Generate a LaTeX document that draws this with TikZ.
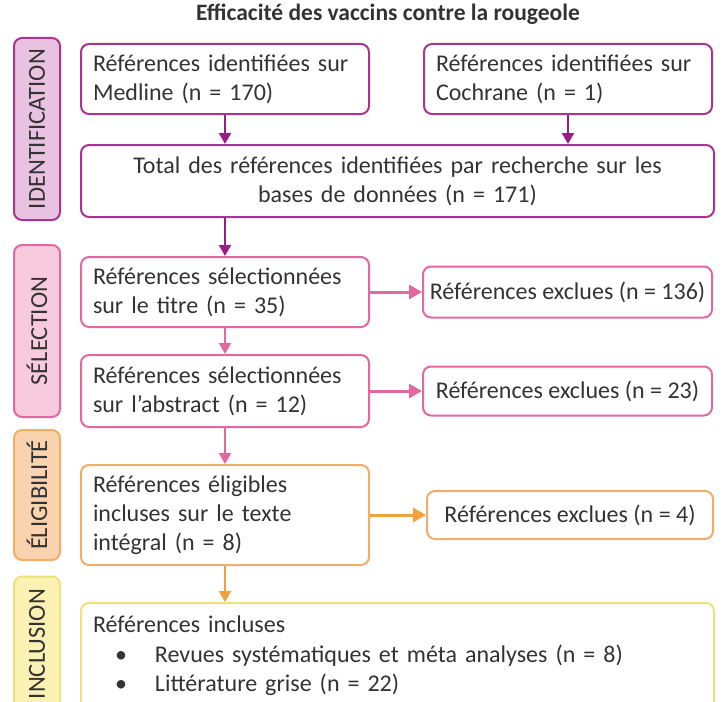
\documentclass[tikz,border=0pt]{standalone}
\usepackage{fontspec}
\setmainfont{Carlito}
\usetikzlibrary{positioning,arrows.meta}

\definecolor{idcol}{HTML}{A8358F}
\definecolor{idfill}{HTML}{E9C2E1}
\definecolor{idarrow}{HTML}{9B1C85}
\definecolor{selcol}{HTML}{E2699F}
\definecolor{selfill}{HTML}{F7CADD}
\definecolor{eligcol}{HTML}{F0AE6A}
\definecolor{eligfill}{HTML}{F8D3AE}
\definecolor{eligarrow}{HTML}{F2A23C}
\definecolor{inclcol}{HTML}{EEE07A}
\definecolor{inclfill}{HTML}{FBF1B3}
\definecolor{txt}{HTML}{333333}

\begin{document}
\begin{tikzpicture}[
    x=1pt, y=1pt,
    font=\fontsize{24}{29}\selectfont\color{txt},
    node distance=30pt,
    box/.style={
        rectangle,
        fill=white,
        line width=2pt,
        rounded corners=8pt,
        inner xsep=12pt,
        inner ysep=4pt,
        align=left
    },
    exclbox/.style={
        box,
        inner xsep=2pt,
        align=center
    },
    phase/.style={
        rectangle,
        rotate=90,
        line width=2pt,
        rounded corners=8pt,
        minimum height=46pt,
        inner sep=0pt,
        font=\fontsize{24.5}{28}\selectfont\color{txt}
    },
    arrow/.style={-{Triangle[length=11pt,width=12pt]}, line width=2.2pt},
    sidearrow/.style={-{Triangle[length=13pt,width=14pt]}, line width=3pt}
]
\useasboundingbox (0,0) rectangle (727,-701);

\node[font=\fontsize{23.5}{28}\selectfont\bfseries\color{txt}] (title) at (388,-14)
{Efficacité des vaccins contre la rougeole};

% identification
\node[box, draw=idcol, text width=264pt, minimum height=70pt, anchor=north west] (med) at (80,-43)
{Références identifiées sur\\Medline (n = 170)};
\node[box, draw=idcol, text width=264pt, minimum height=70pt] (coc) [right=53pt of med]
{Références identifiées sur\\Cochrane (n = 1)};
\node[box, draw=idcol, text width=609pt, minimum height=72pt, align=center]
    (tot) [below=29pt of med.south west, anchor=north west]
{Total des références identifiées par recherche sur les\\bases de données (n = 171)};

% selection
\node[box, draw=selcol, text width=264pt, minimum height=70pt]
    (sel1) [below=38pt of tot.south west, anchor=north west]
{Références sélectionnées\\sur le titre (n = 35)};
\node[exclbox, draw=selcol, minimum width=289pt, minimum height=51pt]
    (exc1) [right=52pt of sel1]
{Références exclues (n = 136)};
\node[box, draw=selcol, text width=264pt, minimum height=72pt] (sel2) [below=26pt of sel1]
{Références sélectionnées\\sur l’abstract (n = 12)};
\node[exclbox, draw=selcol, minimum width=289pt, minimum height=49pt]
    (exc2) [right=52pt of sel2]
{Références exclues (n = 23)};

% eligibilite
\node[box, draw=eligcol, text width=264pt, minimum height=100pt] (elig) [below=36pt of sel2]
{Références éligibles\\incluses sur le texte\\intégral (n = 8)};
\node[exclbox, draw=eligcol, minimum width=286pt, minimum height=48pt]
    (exc3) [right=56pt of elig]
{Références exclues (n = 4)};

% inclusion
\node[box, draw=inclcol, text width=609pt, minimum height=106pt,
    font=\fontsize{24}{29.5}\selectfont\color{txt}]
    (incl) [below=36pt of elig.south west, anchor=north west]
{Références incluses\\
\hspace*{22pt}•\hspace{28pt}Revues systématiques et méta analyses (n = 8)\\
\hspace*{22pt}•\hspace{28pt}Littérature grise (n = 22)};

% phases
\node[phase, draw=idcol, fill=idfill, minimum width=182pt] (idlab) at (37,-129) {IDENTIFICATION};
\node[phase, draw=selcol, fill=selfill, minimum width=172pt] (sellab) at (37,-331) {SÉLECTION};
\node[phase, draw=eligcol, fill=eligfill, minimum width=130pt] (eliglab) at (37,-495) {ÉLIGIBILITÉ};
\node[phase, draw=inclcol, fill=inclfill, minimum width=135pt] (incllab) at (37,-644) {INCLUSION};

\draw[arrow, idarrow] (med) -- (tot.north -| med);
\draw[arrow, idarrow] (coc) -- (tot.north -| coc);
\draw[arrow, idarrow] (tot.south -| med) -- (sel1);
\draw[arrow, selcol] (sel1) -- (sel2);
\draw[sidearrow, selcol] (sel1) -- (exc1);
\draw[sidearrow, selcol] (sel2) -- (exc2);
\draw[arrow, selcol] (sel2) -- (elig);
\draw[sidearrow, eligarrow] (elig) -- (exc3);
\draw[arrow, eligarrow] (elig) -- (incl.north -| elig);

\end{tikzpicture}
\end{document}
